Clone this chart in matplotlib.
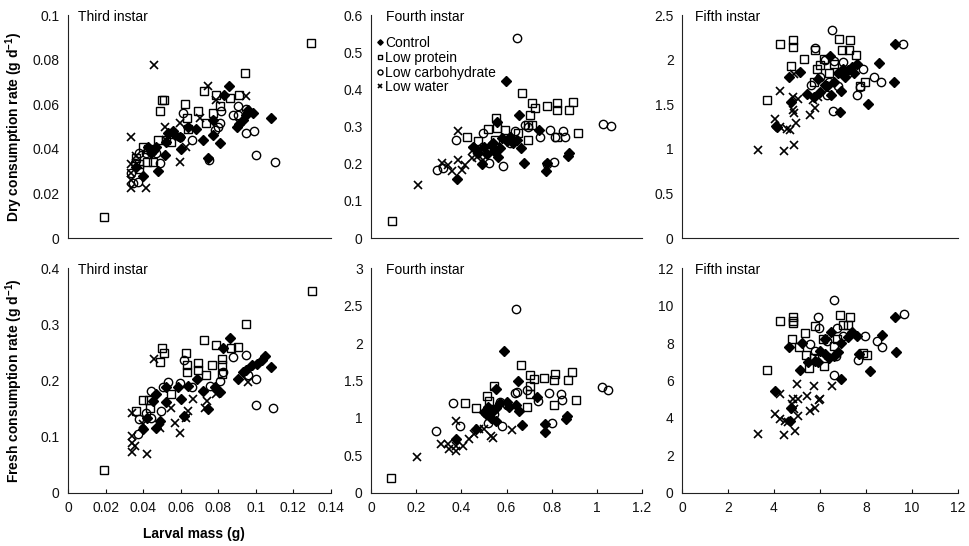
"""Consumption rate vs larval mass for third, fourth and fifth instars, 4 diets."""
import matplotlib
matplotlib.use("Agg")
import matplotlib.pyplot as plt
from matplotlib.ticker import FixedLocator, FuncFormatter
import numpy as np

plt.rcParams["font.family"] = ["Liberation Sans", "DejaVu Sans"]
plt.rcParams["mathtext.fontset"] = "custom"
plt.rcParams["mathtext.rm"] = "Liberation Sans"
plt.rcParams["mathtext.bf"] = "Liberation Sans:bold"

GROUPS = ["Control", "Low protein", "Low carbohydrate", "Low water"]

# ---- Third instar, dry ----
p1_ctrl_x = [0.0857, 0.083, 0.108, 0.095, 0.093, 0.091, 0.090, 0.096, 0.0985, 0.077, 0.072, 0.081, 0.0745, 0.077, 0.068,
             0.060, 0.0595, 0.053, 0.0515, 0.047, 0.045, 0.048, 0.040, 0.0426, 0.0364, 0.056, 0.064, 0.052, 0.044, 0.057]
p1_ctrl_y = [0.068, 0.064, 0.054, 0.055, 0.053, 0.051, 0.050, 0.0575, 0.056, 0.053, 0.044, 0.0425, 0.036, 0.046, 0.049,
             0.040, 0.0455, 0.047, 0.037, 0.041, 0.039, 0.030, 0.0276, 0.041, 0.032, 0.048, 0.050, 0.043, 0.038, 0.046]
p1_prot_x = [0.019, 0.1296, 0.049, 0.050, 0.051, 0.0625, 0.0724, 0.0944, 0.079, 0.086, 0.091, 0.081, 0.069, 0.0635,
             0.0737, 0.064, 0.048, 0.052, 0.055, 0.040, 0.0426, 0.036, 0.038, 0.042, 0.045, 0.0376, 0.077]
p1_prot_y = [0.0094, 0.0873, 0.057, 0.062, 0.062, 0.060, 0.066, 0.074, 0.064, 0.063, 0.064, 0.059, 0.057, 0.054,
             0.0515, 0.049, 0.044, 0.044, 0.043, 0.041, 0.040, 0.036, 0.033, 0.034, 0.034, 0.031, 0.056]
p1_carb_x = [0.110, 0.100, 0.099, 0.095, 0.0905, 0.088, 0.0905, 0.095, 0.0816, 0.080, 0.081, 0.078, 0.075, 0.066,
             0.061, 0.0595, 0.049, 0.047, 0.0346, 0.037, 0.0337, 0.038, 0.0417, 0.0355]
p1_carb_y = [0.034, 0.037, 0.048, 0.047, 0.055, 0.055, 0.059, 0.058, 0.057, 0.050, 0.0515, 0.0485, 0.035, 0.044,
             0.056, 0.0455, 0.0336, 0.038, 0.0246, 0.025, 0.029, 0.038, 0.038, 0.0336]
p1_watr_x = [0.046, 0.0745, 0.0946, 0.0337, 0.0515, 0.0595, 0.0595, 0.0417, 0.0337, 0.0337, 0.0337, 0.0337, 0.0364,
             0.0524, 0.063, 0.070, 0.079, 0.091]
p1_watr_y = [0.0776, 0.068, 0.0637, 0.0455, 0.050, 0.0515, 0.0343, 0.0224, 0.0224, 0.026, 0.029, 0.033, 0.0366,
             0.044, 0.041, 0.0537, 0.062, 0.0515]

# ---- Fourth instar, dry ----
p2_ctrl_x = [0.596, 0.657, 0.745, 0.878, 0.874, 0.778, 0.775, 0.677, 0.663, 0.564, 0.493, 0.379, 0.556, 0.615, 0.630,
             0.645, 0.475, 0.50, 0.53, 0.545, 0.515, 0.54, 0.453, 0.571, 0.60, 0.58]
p2_ctrl_y = [0.423, 0.331, 0.291, 0.228, 0.221, 0.203, 0.179, 0.201, 0.242, 0.219, 0.200, 0.159, 0.313, 0.273, 0.255,
             0.264, 0.230, 0.245, 0.25, 0.235, 0.225, 0.255, 0.246, 0.242, 0.26, 0.27]
p2_prot_x = [0.0915, 0.667, 0.711, 0.726, 0.704, 0.778, 0.822, 0.822, 0.878, 0.896, 0.918, 0.822, 0.711, 0.697, 0.697,
             0.552, 0.593, 0.520, 0.427, 0.475, 0.549, 0.652, 0.556]
p2_prot_y = [0.045, 0.389, 0.363, 0.349, 0.331, 0.354, 0.363, 0.345, 0.345, 0.367, 0.282, 0.273, 0.304, 0.304, 0.264,
             0.322, 0.291, 0.293, 0.271, 0.260, 0.264, 0.282, 0.295]
p2_carb_x = [0.645, 1.029, 1.063, 0.793, 0.852, 0.859, 0.815, 0.808, 0.781, 0.748, 0.682, 0.638, 0.586, 0.524, 0.375,
             0.291, 0.317, 0.615, 0.497, 0.549, 0.697]
p2_carb_y = [0.537, 0.306, 0.302, 0.291, 0.288, 0.273, 0.273, 0.204, 0.200, 0.271, 0.304, 0.288, 0.195, 0.201, 0.264,
             0.182, 0.188, 0.255, 0.282, 0.237, 0.30]
p2_watr_x = [0.210, 0.387, 0.313, 0.342, 0.357, 0.387, 0.401, 0.416, 0.446, 0.468, 0.490, 0.497, 0.453, 0.475]
p2_watr_y = [0.143, 0.287, 0.201, 0.197, 0.179, 0.210, 0.184, 0.197, 0.215, 0.219, 0.228, 0.210, 0.237, 0.246]

# ---- Fifth instar, dry ----
p3_ctrl_x = [9.25, 8.55, 9.23, 8.07, 6.88, 6.42, 4.67, 5.14, 4.74, 4.10, 4.13, 5.43, 5.72, 6.0, 6.3, 6.6, 6.8, 7.0,
             7.2, 7.4, 7.6, 6.5, 6.2, 5.9, 7.1, 6.9, 7.5]
p3_ctrl_y = [2.18, 1.96, 1.75, 1.50, 1.41, 2.04, 1.81, 1.86, 1.53, 1.26, 1.25, 1.62, 1.58, 1.64, 1.70, 1.75, 1.85, 1.90,
             1.88, 1.92, 1.95, 1.60, 1.72, 1.78, 1.80, 1.65, 1.85]
p3_prot_x = [3.70, 4.25, 4.81, 4.81, 4.75, 5.29, 5.80, 6.81, 7.29, 7.25, 6.96, 7.58, 6.16, 6.0, 5.85, 6.38, 5.72, 7.97,
             7.75, 6.6]
p3_prot_y = [1.546, 2.17, 2.22, 2.14, 1.93, 2.01, 2.11, 2.23, 2.22, 2.11, 2.11, 2.05, 2.01, 1.94, 1.90, 1.85, 1.75, 1.75,
             1.70, 1.95]
p3_carb_x = [6.52, 9.61, 8.65, 8.36, 7.87, 7.75, 7.61, 6.55, 5.80, 6.2, 6.6, 7.0, 6.0, 6.4, 6.8, 7.2, 5.6, 6.3]
p3_carb_y = [2.33, 2.17, 1.75, 1.81, 1.90, 1.69, 1.60, 1.42, 2.13, 2.00, 1.98, 1.97, 1.80, 1.75, 1.70, 1.85, 1.72, 1.60]
p3_watr_x = [3.29, 4.42, 4.86, 4.25, 4.81, 4.81, 4.88, 4.06, 4.28, 4.57, 4.68, 4.97, 5.58, 5.77, 5.04, 5.9, 5.7, 4.86]
p3_watr_y = [0.99, 0.97, 1.04, 1.65, 1.58, 1.43, 1.40, 1.33, 1.25, 1.22, 1.21, 1.29, 1.38, 1.46, 1.56, 1.58, 1.55, 1.84]

# ---- Third instar, fresh ----
p4_ctrl_x = [0.086, 0.0827, 0.108, 0.105, 0.103, 0.1004, 0.098, 0.095, 0.0907, 0.0933, 0.081, 0.078, 0.072, 0.0747,
             0.0684, 0.064, 0.0587, 0.0604, 0.0524, 0.0524, 0.047, 0.0453, 0.049, 0.047, 0.040, 0.0418, 0.062]
p4_ctrl_y = [0.275, 0.257, 0.224, 0.243, 0.236, 0.230, 0.227, 0.218, 0.203, 0.215, 0.179, 0.188, 0.182, 0.149,
             0.203, 0.191, 0.188, 0.167, 0.161, 0.188, 0.176, 0.164, 0.128, 0.116, 0.113, 0.134, 0.137]
p4_prot_x = [0.019, 0.130, 0.0946, 0.0725, 0.079, 0.087, 0.0907, 0.0818, 0.0818, 0.0764, 0.069, 0.069, 0.0626, 0.0636,
             0.0636, 0.050, 0.051, 0.049, 0.055, 0.043, 0.040, 0.0364, 0.0436, 0.0733, 0.082]
p4_prot_y = [0.040, 0.359, 0.300, 0.272, 0.264, 0.258, 0.260, 0.239, 0.227, 0.227, 0.231, 0.218, 0.249, 0.227,
             0.215, 0.257, 0.249, 0.233, 0.176, 0.165, 0.165, 0.146, 0.152, 0.209, 0.212]
p4_carb_x = [0.109, 0.100, 0.100, 0.095, 0.096, 0.088, 0.0827, 0.081, 0.0658, 0.062, 0.0596, 0.053, 0.0507, 0.0444,
             0.0494, 0.0414, 0.038, 0.037, 0.0444, 0.0756]
p4_carb_y = [0.151, 0.157, 0.203, 0.245, 0.209, 0.242, 0.215, 0.200, 0.188, 0.236, 0.196, 0.197, 0.188, 0.182,
             0.146, 0.143, 0.131, 0.104, 0.134, 0.191]
p4_watr_x = [0.046, 0.0338, 0.0338, 0.0338, 0.0338, 0.0356, 0.042, 0.0596, 0.057, 0.063, 0.064, 0.0667, 0.055,
             0.0738, 0.079, 0.096, 0.040, 0.049, 0.073]
p4_watr_y = [0.239, 0.143, 0.101, 0.088, 0.072, 0.084, 0.069, 0.107, 0.125, 0.134, 0.146, 0.167, 0.152,
             0.164, 0.176, 0.197, 0.122, 0.116, 0.152]

# ---- Fourth instar, fresh ----
p5_ctrl_x = [0.589, 0.650, 0.735, 0.867, 0.863, 0.772, 0.769, 0.669, 0.655, 0.552, 0.464, 0.376, 0.552, 0.50, 0.52,
             0.54, 0.555, 0.60, 0.61, 0.53, 0.51, 0.57, 0.64]
p5_ctrl_y = [1.89, 1.49, 1.28, 1.02, 0.985, 0.92, 0.81, 0.90, 1.10, 1.39, 0.85, 0.72, 0.96, 1.08, 1.15,
             1.10, 1.13, 1.21, 1.15, 1.00, 1.05, 1.20, 1.18]
p5_prot_x = [0.088, 0.662, 0.703, 0.721, 0.706, 0.703, 0.767, 0.815, 0.812, 0.872, 0.890, 0.908, 0.811, 0.545, 0.513,
             0.464, 0.416, 0.691, 0.523]
p5_prot_y = [0.20, 1.71, 1.58, 1.52, 1.43, 1.32, 1.54, 1.59, 1.51, 1.51, 1.61, 1.24, 1.18, 1.43, 1.30,
             1.13, 1.20, 1.15, 1.23]
p5_carb_x = [0.640, 1.021, 1.050, 0.787, 0.841, 0.845, 0.801, 0.740, 0.645, 0.636, 0.579, 0.516, 0.365, 0.286, 0.396,
             0.572, 0.60, 0.69, 0.545]
p5_carb_y = [2.45, 1.41, 1.37, 1.33, 1.32, 1.24, 0.93, 1.23, 1.35, 1.33, 0.89, 0.93, 1.20, 0.83, 0.89,
             1.22, 1.17, 1.38, 1.05]
p5_watr_x = [0.204, 0.377, 0.311, 0.340, 0.347, 0.377, 0.377, 0.406, 0.435, 0.457, 0.479, 0.501, 0.530, 0.538, 0.626]
p5_watr_y = [0.483, 0.962, 0.658, 0.649, 0.582, 0.560, 0.627, 0.627, 0.716, 0.783, 0.850, 0.850, 0.761, 0.739, 0.837]

# ---- Fifth instar, fresh ----
p6_ctrl_x = [9.28, 8.70, 9.32, 8.16, 6.91, 5.12, 4.67, 5.22, 4.06, 4.75, 4.68, 5.5, 5.8, 6.0, 6.2, 6.4, 6.6, 6.8,
             6.2, 6.5, 6.9, 7.2, 7.4, 7.6, 7.7, 5.9]
p6_ctrl_y = [9.38, 8.42, 7.54, 6.49, 6.09, 6.54, 7.81, 8.02, 5.44, 4.56, 3.86, 7.0, 7.05, 7.6, 7.4, 7.2, 7.3, 7.5,
             8.2, 8.6, 8.0, 8.3, 8.6, 8.4, 7.4, 7.0]
p6_prot_x = [3.70, 4.25, 4.81, 4.81, 4.81, 4.78, 5.36, 5.80, 6.86, 7.32, 6.99, 7.2, 5.07, 5.39, 5.51, 5.72, 6.19,
             6.15, 6.6, 6.75, 8.04, 7.85]
p6_prot_y = [6.54, 9.17, 9.38, 9.20, 9.07, 8.19, 8.54, 8.89, 9.47, 9.39, 8.95, 8.95, 7.80, 7.37, 6.67, 7.19, 6.75,
             8.19, 7.82, 8.19, 7.37, 7.45]
p6_carb_x = [6.62, 9.67, 8.48, 8.70, 7.97, 7.65, 6.62, 5.94, 5.90, 5.58, 6.3, 6.75, 7.0, 6.7, 5.8]
p6_carb_y = [10.3, 9.56, 8.12, 7.77, 8.37, 7.07, 6.32, 8.81, 9.38, 7.95, 8.1, 8.8, 8.4, 7.3, 7.6]
p6_watr_x = [3.29, 4.42, 4.90, 4.06, 4.28, 4.50, 4.60, 5.04, 4.81, 4.78, 4.86, 4.28, 5.04, 5.00, 5.43, 5.72, 5.58,
             5.80, 5.95, 6.0, 6.52]
p6_watr_y = [3.12, 3.07, 3.33, 4.21, 3.95, 3.85, 3.80, 4.12, 5.00, 4.74, 4.47, 5.26, 5.00, 5.79, 5.17, 5.70, 4.38,
             4.56, 4.95, 5.0, 5.70]

PANELS = [
    ("Third instar", (p1_ctrl_x, p1_ctrl_y), (p1_prot_x, p1_prot_y), (p1_carb_x, p1_carb_y), (p1_watr_x, p1_watr_y)),
    ("Fourth instar", (p2_ctrl_x, p2_ctrl_y), (p2_prot_x, p2_prot_y), (p2_carb_x, p2_carb_y), (p2_watr_x, p2_watr_y)),
    ("Fifth instar", (p3_ctrl_x, p3_ctrl_y), (p3_prot_x, p3_prot_y), (p3_carb_x, p3_carb_y), (p3_watr_x, p3_watr_y)),
    ("Third instar", (p4_ctrl_x, p4_ctrl_y), (p4_prot_x, p4_prot_y), (p4_carb_x, p4_carb_y), (p4_watr_x, p4_watr_y)),
    ("Fourth instar", (p5_ctrl_x, p5_ctrl_y), (p5_prot_x, p5_prot_y), (p5_carb_x, p5_carb_y), (p5_watr_x, p5_watr_y)),
    ("Fifth instar", (p6_ctrl_x, p6_ctrl_y), (p6_prot_x, p6_prot_y), (p6_carb_x, p6_carb_y), (p6_watr_x, p6_watr_y)),
]

X_MAX = [0.14, 1.2, 12]
X_STEP = [0.02, 0.2, 2]
Y_MAX = [0.1, 0.6, 2.5, 0.4, 3, 12]
Y_STEP = [0.02, 0.1, 0.5, 0.1, 0.5, 2]

# marker style per group: (marker, size, filled)
STYLES = [("D", 4.6, True), ("s", 5.8, False), ("o", 6.0, False), ("x", 6.0, False)]

# axes boxes in figure fraction (pixel-matched to 969x546)
COL_LEFT = [0.0702, 0.3829, 0.7038]
COL_W = [0.2714, 0.2797, 0.2848]
ROW_BOT = [0.5641, 0.0971]
ROW_H = [0.4084, 0.4120]
TITLE_X = [0.038, 0.055, 0.047]

fmt = FuncFormatter(lambda v, _: f"{v:g}")

fig = plt.figure(figsize=(9.69, 5.46), dpi=100)
axes = []
for i, (title, *groups) in enumerate(PANELS):
    r, c = divmod(i, 3)
    ax = fig.add_axes([COL_LEFT[c], ROW_BOT[r], COL_W[c], ROW_H[r]])
    axes.append(ax)
    # draw open markers first so filled diamonds sit on top like the original
    for gi in [1, 2, 3, 0]:
        gx, gy = groups[gi]
        mk, ms, filled = STYLES[gi]
        ax.plot(gx, gy, linestyle="none", marker=mk, markersize=ms,
                markerfacecolor="black" if filled else "none",
                markeredgecolor="black", markeredgewidth=1.0 if mk != "x" else 1.2,
                label=GROUPS[gi], clip_on=False)
    ax.set_xlim(0, X_MAX[c])
    ax.set_ylim(0, Y_MAX[i])
    for side in ["top", "right"]:
        ax.spines[side].set_visible(False)
    for side in ["left", "bottom"]:
        ax.spines[side].set_color("#222222")
        ax.spines[side].set_linewidth(0.8)
    ax.yaxis.set_major_locator(FixedLocator(np.arange(0, Y_MAX[i] + 1e-9, Y_STEP[i])))
    ax.yaxis.set_major_formatter(fmt)
    ax.tick_params(axis="y", length=0, pad=6, labelsize=10, colors="#111111")
    if r == 1:
        ax.xaxis.set_major_locator(FixedLocator(np.arange(0, X_MAX[c] + 1e-9, X_STEP[c])))
        ax.xaxis.set_major_formatter(fmt)
        ax.tick_params(axis="x", direction="in", length=3, width=0.8, pad=6,
                       labelsize=10, colors="#111111")
    else:
        ax.set_xticks([])
    ax.text(TITLE_X[c], 0.99, title, transform=ax.transAxes, ha="left",
            va="center", fontsize=10)

# axis labels only on the left column
for ax, lab in [(axes[0], "Dry consumption rate (g d$^{\\mathbf{-1}}$)"),
                (axes[3], "Fresh consumption rate (g d$^{\\mathbf{-1}}$)")]:
    ax.set_ylabel(lab, fontsize=10, fontweight="bold")
    ax.yaxis.set_label_coords(-0.165, 0.5)
axes[3].set_xlabel("Larval mass (g)", fontsize=10, fontweight="bold")
axes[3].xaxis.set_label_coords(0.48, -0.15)

# legend inside the fourth-instar dry panel, in group order
handles, labels = axes[1].get_legend_handles_labels()
order = [labels.index(g) for g in GROUPS]
axes[1].legend([handles[k] for k in order], GROUPS, loc="upper left",
               bbox_to_anchor=(0.02, 0.905), frameon=False, fontsize=10,
               markerscale=0.6, handlelength=0.5, handletextpad=0.15,
               labelspacing=0.05, borderaxespad=0, borderpad=0)

fig.savefig("out.png", dpi=100)
